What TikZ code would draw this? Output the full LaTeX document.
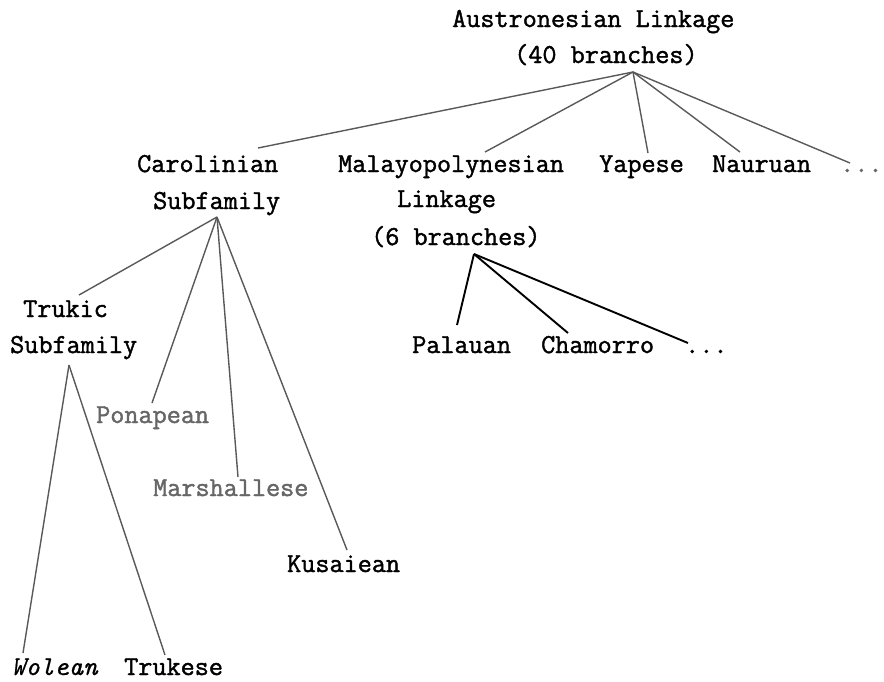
\documentclass[tikz,border=0pt]{standalone}
\usepackage{fontspec}
\setmonofont[UprightFeatures={FakeBold=1.5},ItalicFeatures={FakeBold=0.6}]{Latin Modern Mono}
\begin{document}
\begin{tikzpicture}[x=1pt,y=-1pt,
  lbl/.style={anchor=base west,inner sep=0pt,font=\fontsize{27.4}{27.4}\selectfont\ttfamily,text=black},
  faint/.style={lbl,text=black!60},
  edge/.style={draw=black!65,line width=1.4pt},
  boldedge/.style={draw=black,line width=1.9pt}]
\useasboundingbox (0,0) rectangle (884,681);
% labels
\node[lbl] (aus1) at (452,27) {Austronesian Linkage};
\node[lbl] (aus2) at (514,63) {(40 branches)};
\node[lbl] (car1) at (137,172) {Carolinian};
\node[lbl] (car2) at (153,209) {Subfamily};
\node[lbl] (mp1) at (338,172) {Malayopolynesian};
\node[lbl] (mp2) at (397,207) {Linkage};
\node[lbl] (mp3) at (371,245) {(6 branches)};
\node[lbl] (yap) at (599,172) {Yapese};
\node[lbl] (nau) at (712,172) {Nauruan};
\node[faint] (dots1) at (840,172) {...};
\node[lbl] (tru1) at (23,317) {Trukic};
\node[lbl] (tru2) at (10,353) {Subfamily};
\node[faint] (pon) at (96,423) {Ponapean};
\node[faint] (mar) at (153,496) {Marshallese};
\node[lbl] (kus) at (287,572) {Kusaiean};
\node[lbl,font=\fontsize{27.4}{27.4}\selectfont\ttfamily\itshape] (wol) at (11,675) {Wolean};
\node[lbl] (trk) at (124,675) {Trukese};
\node[lbl] (pal) at (412,353) {Palauan};
\node[lbl] (cha) at (541,353) {Chamorro};
\node[lbl] (dots2) at (685,353) {...};
% junctions and ends
\coordinate (rj) at (633,72);
\coordinate (cj) at (217,217);
\coordinate (tj) at (69,365);
\coordinate (mj) at (474,254);
\coordinate (e-car) at (258,148);
\coordinate (e-mp) at (485,152);
\coordinate (e-yap) at (648,153);
\coordinate (e-nau) at (740,152);
\coordinate (e-dots1) at (850,163);
\coordinate (e-tru) at (79,295);
\coordinate (e-pon) at (152,403);
\coordinate (e-mar) at (238,477);
\coordinate (e-kus) at (347,550);
\coordinate (e-wol) at (23,653);
\coordinate (e-trk) at (165,655);
\coordinate (e-pal) at (457,325);
\coordinate (e-cha) at (568,333);
\coordinate (e-dots2) at (688,343);
% connectors
\draw[edge] (rj) -- (e-car);
\draw[edge] (rj) -- (e-mp);
\draw[edge] (rj) -- (e-yap);
\draw[edge] (rj) -- (e-nau);
\draw[edge] (rj) -- (e-dots1);
\draw[edge] (cj) -- (e-tru);
\draw[edge] (cj) -- (e-pon);
\draw[edge] (cj) -- (e-mar);
\draw[edge] (cj) -- (e-kus);
\draw[edge] (tj) -- (e-wol);
\draw[edge] (tj) -- (e-trk);
\draw[boldedge] (mj) -- (e-pal);
\draw[boldedge] (mj) -- (e-cha);
\draw[boldedge] (mj) -- (e-dots2);
\end{tikzpicture}
\end{document}
